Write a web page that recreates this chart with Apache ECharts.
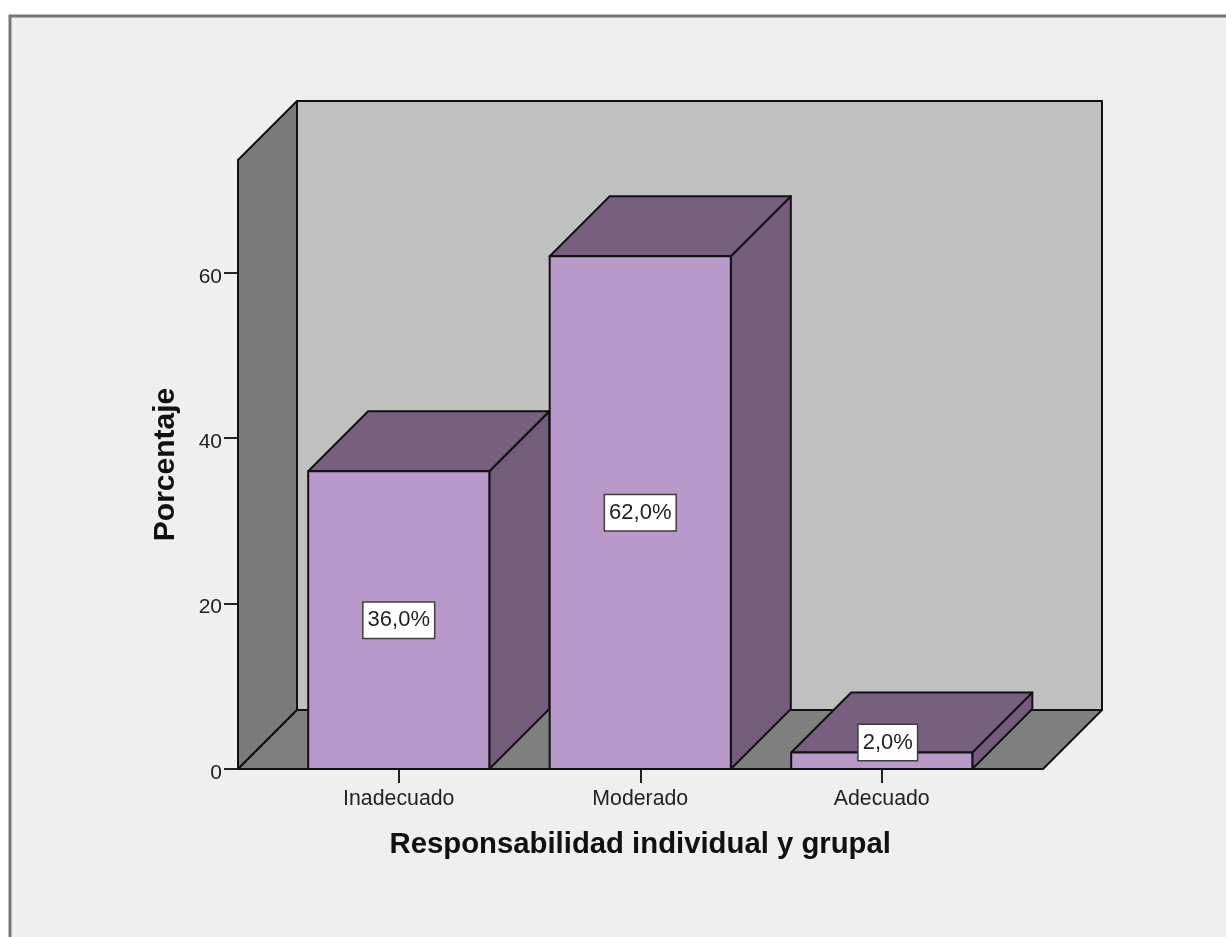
<!DOCTYPE html>
<html><head><meta charset="utf-8">
<style>html,body{margin:0;padding:0;background:#fff}#c{width:1226px;height:937px;filter:blur(0.45px)}</style>
<script src="https://cdn.jsdelivr.net/npm/echarts@6/dist/echarts.min.js"></script>
</head><body><div id="c"></div>
<script>
const categories = ['Inadecuado', 'Moderado', 'Adecuado'];
const percentages = [36.0, 62.0, 2.0];
const yTicks = [0, 20, 40, 60];
const yMax = 73.65;
const xTitle = 'Responsabilidad individual y grupal';
const yTitle = 'Porcentaje';

const DEPTH = 59, PAD_L = 40, PAD_R = 40.5;
const INK = '#111', FONT = '"Liberation Sans", Arial, sans-serif', TXT = '#222';
const poly = (points, fill, z2) => ({
  type: 'polygon', z2: z2 || 0, shape: { points },
  style: { fill, stroke: INK, lineWidth: 2, lineJoin: 'round' }
});

const chart = echarts.init(document.getElementById('c'), null, { renderer: 'canvas' });
chart.setOption({
  animation: false,
  backgroundColor: '#ffffff',
  graphic: [{
    type: 'rect', z: -10, silent: true,
    shape: { x: 10, y: 16, width: 1300, height: 1000 },
    style: { fill: '#efefef', stroke: '#777777', lineWidth: 3 }
  }],
  grid: { left: 278, width: 724.5, top: 160, height: 609 },
  xAxis: {
    type: 'category', data: categories, boundaryGap: true,
    axisLine: { show: false },
    axisTick: { show: true, alignWithLabel: true, length: 14, lineStyle: { color: '#222', width: 2 } },
    axisLabel: { color: TXT, fontFamily: FONT, fontSize: 21.3, margin: 20 },
    name: xTitle, nameLocation: 'middle', nameGap: 61,
    nameTextStyle: { color: '#111', fontFamily: FONT, fontSize: 29.3, fontWeight: 'bold' }
  },
  yAxis: {
    type: 'value', min: 0, max: yMax, offset: 40, interval: 20,
    splitLine: { show: false },
    axisLine: { show: false },
    axisTick: { show: true, length: 14, customValues: yTicks, lineStyle: { color: '#222', width: 2 } },
    axisLabel: {
      margin: 16, customValues: yTicks,
      formatter: '{a|{value}}',
      rich: { a: { color: TXT, fontFamily: FONT, fontSize: 21, padding: [8, 0, 0, 0] } }
    },
    name: yTitle, nameLocation: 'middle', nameGap: 57, nameRotate: 90,
    nameTextStyle: { color: '#111', fontFamily: FONT, fontSize: 30, fontWeight: 'bold' }
  },
  series: [
    {
      type: 'custom', coordinateSystem: 'cartesian2d', silent: true, clip: false, z: 1,
      data: [[0, 0]],
      renderItem(params, api) {
        const cs = params.coordSys;
        const y0 = api.coord([0, 0])[1], yT = api.coord([0, yMax])[1];
        const l = cs.x - PAD_L, r = cs.x + cs.width + PAD_R;
        return { type: 'group', children: [
          poly([[l + DEPTH, yT - DEPTH], [r + DEPTH, yT - DEPTH], [r + DEPTH, y0 - DEPTH], [l + DEPTH, y0 - DEPTH]], '#c0c0c0'),
          poly([[l, yT], [l + DEPTH, yT - DEPTH], [l + DEPTH, y0 - DEPTH], [l, y0]], '#7b7b7b'),
          poly([[l, y0], [l + DEPTH, y0 - DEPTH], [r + DEPTH, y0 - DEPTH], [r, y0]], '#7f7f7f')
        ] };
      }
    },
    {
      type: 'custom', coordinateSystem: 'cartesian2d', silent: true, clip: false, z: 2,
      data: categories.map((c, i) => [i, percentages[i]]),
      encode: { x: 0, y: 1 },
      renderItem(params, api) {
        const v = api.value(1);
        const top = api.coord([api.value(0), v]), base = api.coord([api.value(0), 0]);
        const w = api.size([1, 0])[0] * 0.75;
        const a = top[0] - w / 2, b = top[0] + w / 2, d = DEPTH + 1;
        const frontH = base[1] - top[1];
        const small = frontH < 36;
        return { type: 'group', children: [
          poly([[b, base[1]], [b + d, base[1] - d], [b + d, top[1] - d], [b, top[1]]], '#745d7b', 1),
          poly([[a, top[1]], [a + d, top[1] - d], [b + d, top[1] - d], [b, top[1]]], '#77607f', 2),
          poly([[a, base[1]], [a, top[1]], [b, top[1]], [b, base[1]]], '#b899c9', 3),
          {
            type: 'text', z2: 10,
            style: {
              x: top[0] + (small ? 6 : 0),
              y: small ? top[1] - 10 : (top[1] + base[1]) / 2,
              text: v.toFixed(1).replace('.', ',') + '%',
              align: 'center', verticalAlign: 'middle',
              fontFamily: FONT, fontSize: 22, fill: '#222',
              backgroundColor: '#ffffff', borderColor: '#3f3f3f', borderWidth: 1.5,
              padding: [9, 4, 4, 4]
            }
          }
        ] };
      }
    }
  ]
});
</script></body></html>
